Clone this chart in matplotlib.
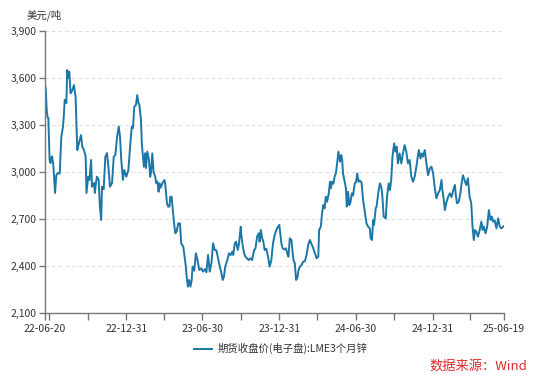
import matplotlib
matplotlib.use("Agg")
import matplotlib.pyplot as plt
import matplotlib.dates as mdates
import pandas as pd

plt.rcParams['font.family'] = ['Noto Sans CJK SC', 'DejaVu Sans']

start_date = "2022-06-20"
end_date = "2025-06-19"
series_name = "期货收盘价(电子盘):LME3个月锌"
unit_label = "美元/吨"
source_label = "数据来源：Wind"

# days after start_date
days = [0, 2, 4, 6, 8, 11, 13, 15, 17, 20, 24, 27, 30, 35, 39, 43, 45, 47, 51, 53, 55, 58, 61, 65, 69, 73, 75, 77, 81, 86,
        89, 93, 97, 99, 103, 106, 110, 112, 117, 119, 122, 124, 128, 131, 134, 136, 140, 144, 148, 152, 155, 160, 164, 168,
        172, 176, 179, 182, 186, 189, 194, 199, 203, 207, 210, 213, 217, 220, 223, 225, 229, 231, 233, 236, 239, 241, 244,
        248, 251, 253, 256, 259, 263, 265, 268, 271, 273, 276, 280, 285, 287, 291, 294, 297, 299, 302, 305, 308, 311, 314,
        318, 322, 325, 330, 334, 336, 338, 341, 344, 347, 350, 352, 356, 360, 364, 368, 373, 377, 382, 385, 389, 393, 397,
        401, 405, 409, 413, 417, 421, 424, 427, 430, 435, 439, 443, 447, 449, 453, 456, 460, 463, 467, 468, 472, 475, 478,
        482, 486, 490, 494, 499, 502, 506, 510, 512, 515, 518, 521, 524, 528, 532, 536, 540, 544, 548, 552, 556, 559, 564,
        567, 571, 575, 579, 581, 584, 588, 591, 593, 596, 599, 602, 605, 608, 612, 616, 620, 624, 628, 632, 636, 640, 644,
        648, 652, 654, 658, 661, 664, 667, 670, 673, 677, 680, 682, 685, 688, 691, 694, 697, 700, 704, 707, 709, 711, 715,
        718, 720, 723, 726, 729, 732, 735, 739, 742, 745, 748, 751, 755, 759, 763, 767, 771, 775, 777, 780, 783, 785, 789,
        791, 795, 799, 803, 805, 808, 813, 816, 820, 823, 826, 829, 833, 836, 839, 842, 846, 850, 854, 858, 862, 866, 870,
        874, 878, 882, 886, 890, 892, 896, 899, 902, 906, 910, 914, 918, 922, 926, 930, 934, 938, 942, 946, 948, 951, 954,
        958, 962, 966, 970, 974, 978, 980, 983, 987, 991, 994, 997, 1001, 1005, 1009, 1013, 1017, 1020, 1023, 1026, 1029,
        1033, 1037, 1041, 1044, 1047, 1051, 1055, 1059, 1063, 1066, 1069, 1073, 1077, 1081, 1085, 1089, 1093, 1095]

prices = [3560, 3520, 3400, 3350, 3345, 3077, 3057, 3090, 3100, 3040, 2866, 2980, 2993, 2990, 3225, 3290, 3364, 3460, 3440,
          3651, 3600, 3640, 3502, 3520, 3555, 3480, 3313, 3140, 3185, 3236, 3162, 3140, 3098, 2866, 2970, 2950, 3077, 2906,
          2930, 2866, 2940, 2970, 2950, 2779, 2694, 2906, 2890, 3098, 3121, 3013, 2906, 2930, 3098, 3110, 3225, 3290, 3225,
          3077, 2949, 3013, 2970, 3013, 3162, 3290, 3280, 3417, 3428, 3491, 3439, 3430, 3332, 3183, 3119, 3034, 3120, 3025,
          3130, 3080, 2970, 3000, 3119, 3000, 2970, 2930, 2940, 2874, 2928, 2900, 2928, 2949, 2920, 2800, 2779, 2779, 2842,
          2842, 2757, 2672, 2609, 2620, 2672, 2672, 2545, 2523, 2438, 2396, 2332, 2268, 2311, 2268, 2311, 2396, 2370, 2481,
          2438, 2375, 2385, 2364, 2380, 2360, 2470, 2364, 2417, 2545, 2502, 2500, 2449, 2396, 2353, 2311, 2332, 2396, 2438,
          2481, 2470, 2492, 2470, 2545, 2555, 2502, 2545, 2651, 2609, 2523, 2481, 2460, 2449, 2438, 2449, 2438, 2502, 2510,
          2587, 2609, 2555, 2630, 2580, 2555, 2502, 2510, 2460, 2396, 2438, 2545, 2598, 2630, 2651, 2662, 2545, 2513, 2505,
          2513, 2470, 2460, 2577, 2566, 2481, 2438, 2417, 2311, 2322, 2375, 2396, 2406, 2428, 2430, 2470, 2534, 2566, 2540,
          2513, 2481, 2449, 2460, 2630, 2651, 2736, 2789, 2768, 2842, 2810, 2864, 2938, 2896, 2938, 2925, 2970, 2991, 3055,
          3130, 3066, 3109, 3077, 2991, 2938, 2896, 2779, 2874, 2789, 2810, 2864, 2850, 2928, 2935, 2991, 2938, 2945, 2935,
          2821, 2747, 2672, 2651, 2640, 2577, 2566, 2694, 2662, 2768, 2779, 2864, 2928, 2896, 2842, 2715, 2704, 2842, 2928,
          2885, 2950, 3098, 3183, 3130, 3162, 3055, 3119, 3055, 3119, 3172, 3130, 3055, 3077, 2970, 2938, 2970, 3034, 3109,
          3140, 3087, 3119, 3098, 3140, 3055, 2979, 3023, 3034, 2991, 2896, 2832, 2864, 2885, 2949, 2885, 2832, 2757, 2810,
          2842, 2864, 2840, 2885, 2917, 2853, 2800, 2810, 2864, 2928, 2979, 2949, 2917, 2960, 2842, 2800, 2651, 2566, 2630,
          2620, 2587, 2630, 2683, 2630, 2651, 2609, 2651, 2757, 2694, 2715, 2683, 2690, 2640, 2704, 2651, 2640, 2651, 2655]

y_ticks = [2100, 2400, 2700, 3000, 3300, 3600, 3900]
x_label_dates = ["2022-06-20", "2022-12-31", "2023-06-30", "2023-12-31", "2024-06-30", "2024-12-31", "2025-06-19"]
x_label_texts = ["22-06-20", "22-12-31", "23-06-30", "23-12-31", "24-06-30", "24-12-31", "25-06-19"]
x_minor_dates = ["2022-06-30", "2022-09-30", "2023-03-31", "2023-09-30", "2024-03-31", "2024-09-30", "2025-03-31"]

dates = pd.Timestamp(start_date) + pd.to_timedelta(days, unit="D")

fig = plt.figure(figsize=(5.5, 3.8), dpi=100)
ax = fig.add_axes([0.0818, 0.1763, 0.8345, 0.7421])

line_color = "#1c76a6"
ax.plot(dates, prices, color=line_color, linewidth=1.4, label=series_name)

ax.set_xlim(pd.Timestamp(start_date), pd.Timestamp(end_date))
ax.set_ylim(2100, 3900)

ax.set_yticks(y_ticks)
ax.set_yticklabels([f"{v:,}" for v in y_ticks])
ax.set_xticks(pd.to_datetime(x_label_dates))
ax.set_xticklabels(x_label_texts)
ax.set_xticks(pd.to_datetime(x_minor_dates), minor=True)

for s in ["top", "right"]:
    ax.spines[s].set_visible(False)
for s in ["left", "bottom"]:
    ax.spines[s].set_color("#777777")
    ax.spines[s].set_linewidth(1.0)

ax.tick_params(axis="both", which="both", colors="#777777", labelcolor="#333333", labelsize=7.5, length=4, width=1.0)
ax.tick_params(axis="x", which="both", length=5, pad=3)
ax.tick_params(axis="y", pad=2)

ax.yaxis.grid(True, color="#dcdcdc", linestyle=(0, (3, 3)), linewidth=0.8)
ax.set_axisbelow(True)

fig.text(0.049, 0.96, unit_label, fontsize=7.5, color="#333333", ha="left", va="center")

leg = fig.legend(loc="center", bbox_to_anchor=(0.51, 0.082), frameon=False, fontsize=7.5,
                 handlelength=1.8, handletextpad=0.5)
for t in leg.get_texts():
    t.set_color("#333333")

fig.text(0.958, 0.037, source_label, fontsize=9.5, color="#e02b2b", ha="right", va="center")

fig.savefig("out.png", dpi=100)
